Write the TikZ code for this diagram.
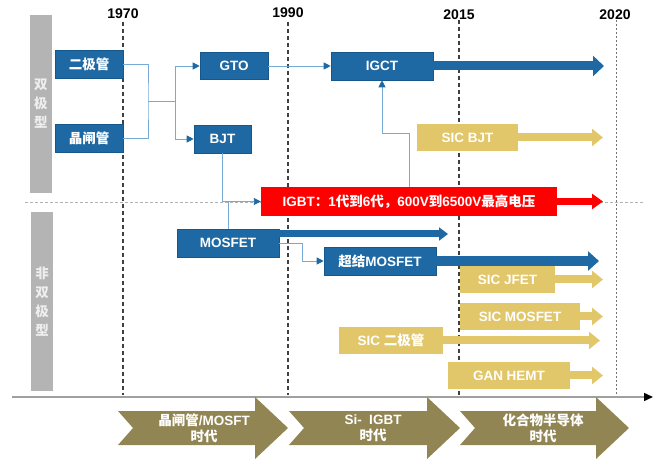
\documentclass[tikz,border=0pt]{standalone}
\usepackage{fontspec}
\setmainfont{Liberation Sans}
\newfontfamily\cjk{Noto Sans CJK SC}
\usetikzlibrary{arrows.meta}

\definecolor{boxblue}{RGB}{30,105,163}
\definecolor{boxedge}{RGB}{22,88,140}
\definecolor{linkblue}{RGB}{120,170,214}
\definecolor{gold}{RGB}{226,198,106}
\definecolor{igbtred}{RGB}{255,0,0}
\definecolor{olive}{RGB}{145,133,83}
\definecolor{bargray}{RGB}{180,180,180}
\definecolor{bartext}{RGB}{238,238,238}
\definecolor{axisgray}{RGB}{160,160,160}

\newcommand\zh[1]{{\cjk #1}}

\tikzset{
  box/.style={minimum height=28pt, inner sep=0pt, text=white, anchor=center},
  bluebox/.style={box, fill=boxblue, draw=boxedge, line width=0.6pt},
  goldbox/.style={box, fill=gold, minimum height=27pt},
  link/.style={draw=linkblue, line width=0.9pt},
  linkarrow/.style={link, -{Triangle[length=7pt,width=7pt,color=boxblue]}},
  fatarrow/.style n args={3}{line width=#1, -{Triangle[length=#3,width=#2]}},
  yearline/.style={draw=black!75, line width=1.2pt, dash pattern=on 4pt off 3pt},
  yearlabel/.style={font=\fontsize{14}{16}\selectfont\bfseries, text=black},
  bar/.style={fill=bargray, text=bartext, minimum width=22pt, inner sep=0pt,
    align=center, font=\fontsize{13.5}{19}\selectfont\cjk\bfseries},
  era/.style={fill=olive},
  eratext/.style={text=white, align=center, font=\fontsize{13.5}{16}\selectfont\bfseries},
}

\begin{document}
\begin{tikzpicture}[x=1pt, y=-1pt, font=\fontsize{13.5}{15}\selectfont\bfseries]
\useasboundingbox (0,0) rectangle (659,462);

% year grid
\draw[yearline] (123,22) -- (123,395);
\draw[yearline] (288,22) -- (288,395);
\draw[yearline] (459,20) -- (459,395);
\draw[draw=black!55, line width=0.8pt, dash pattern=on 2pt off 2pt] (616,20) -- (616,395);
\node[yearlabel] (y1970) at (123,14) {1970};
\node[yearlabel] (y1990) at (288,13) {1990};
\node[yearlabel] (y2015) at (459,15) {2015};
\node[yearlabel] (y2020) at (615,15) {2020};

% separator between bipolar and non-bipolar
\draw[draw=black!30, line width=0.5pt, dash pattern=on 3pt off 2pt] (25,202) -- (643,202);

% category bars
\node[bar, minimum height=178pt] (bipolar) at (41,104) {双\\极\\型};
\node[bar, minimum height=179pt] (nonbipolar) at (42,301.5) {非\\双\\极\\型};

% time axis
\draw[draw=axisgray, line width=1.5pt, -{Triangle[length=9pt,width=8pt,color=black]}] (12,397) -- (653,397);

% era chevrons
\fill[era] (118,411) -- (255,411) -- (255,397) -- (288,428) -- (255,459) -- (255,445) -- (118,445) -- (133,428) -- cycle;
\fill[era] (289,411) -- (427,411) -- (427,397) -- (460,428) -- (427,459) -- (427,445) -- (289,445) -- (304,428) -- cycle;
\fill[era] (460,411) -- (596,411) -- (596,397) -- (629,428) -- (596,459) -- (596,445) -- (460,445) -- (475,428) -- cycle;
\node[eratext] (era1) at (204,428) {\zh{晶闸管}/MOSFT\\\zh{时代}};
\node[eratext] (era2) at (373,428) {Si-\ \ IGBT\\\zh{时代}};
\node[eratext] (era3) at (543,428) {\zh{化合物半导体}\\\zh{时代}};

% devices
\node[bluebox, minimum width=68pt] (diode) at (89,64.5) {\zh{二极管}};
\node[bluebox, minimum width=68pt] (thyr) at (89,138) {\zh{晶闸管}};
\node[bluebox, minimum width=68pt, minimum height=27pt] (gto) at (234,66) {GTO};
\node[bluebox, minimum width=57pt] (bjt) at (222.5,139) {BJT};
\node[bluebox, minimum width=102pt] (igct) at (382,66) {IGCT};
\node[goldbox, minimum width=101pt] (sicbjt) at (467.5,137.5) {SIC BJT};
\node[box, fill=igbtred, minimum width=296pt, minimum height=29pt] (igbt) at (409,201.5)
  {IGBT\zh{：}1\zh{代到}6\zh{代，}600V\zh{到}6500V\zh{最高电压}};
\node[bluebox, minimum width=102pt] (mosfet) at (228,243) {MOSFET};
\node[bluebox, minimum width=112pt] (sj) at (380,261) {\zh{超结}MOSFET};
\node[goldbox, minimum width=95pt] (sicjfet) at (507.5,279.5) {SIC JFET};
\node[goldbox, minimum width=120pt] (sicmos) at (520,316.5) {SIC MOSFET};
\node[goldbox, minimum width=104pt] (sicdiode) at (391,340.5) {SIC \zh{二极管}};
\node[goldbox, minimum width=122pt] (gan) at (509,375.5) {GAN HEMT};

% lifetime arrows
\coordinate (igctEnd) at (604,66);
\coordinate (sicbjtEnd) at (603,137.5);
\coordinate (igbtEnd) at (603,201.5);
\coordinate (mosEnd) at (448,234);
\coordinate (sjEnd) at (599,261);
\coordinate (jfetEnd) at (603,279.5);
\coordinate (smosEnd) at (603,316.5);
\coordinate (sdiodeEnd) at (600,340.5);
\coordinate (ganEnd) at (603,375.5);
\draw[fatarrow={9pt}{20pt}{11pt}, draw=boxblue] (igct.east) -- (igctEnd);
\draw[fatarrow={8pt}{17pt}{11pt}, draw=gold] (sicbjt.east) -- (sicbjtEnd);
\draw[fatarrow={7pt}{15pt}{11pt}, draw=igbtred] (igbt.east) -- (igbtEnd);
\draw[fatarrow={7pt}{13pt}{9pt}, draw=boxblue] (mosfet.east |- mosEnd) -- (mosEnd);
\draw[fatarrow={10pt}{19pt}{11pt}, draw=boxblue] (sj.east) -- (sjEnd);
\draw[fatarrow={8pt}{17pt}{11pt}, draw=gold] (sicjfet.east) -- (jfetEnd);
\draw[fatarrow={8pt}{17pt}{11pt}, draw=gold] (sicmos.east) -- (smosEnd);
\draw[fatarrow={8pt}{17pt}{11pt}, draw=gold] (sicdiode.east) -- (sdiodeEnd);
\draw[fatarrow={8pt}{17pt}{11pt}, draw=gold] (gan.east) -- (ganEnd);

% lineage connectors
\coordinate (joinA) at (148,101);
\coordinate (joinB) at (175,101);
\draw[link] (diode.east) -| (joinA) |- (thyr.east);
\draw[link] (joinA) -- (joinB);
\draw[linkarrow] (joinB) |- (gto.west);
\draw[linkarrow] (joinB) |- (bjt.west);
\draw[linkarrow] (gto.east) -- (igct.west);
\draw[linkarrow] (bjt.south) |- (igbt.west);
\draw[link] (mosfet.north) -- (mosfet.north |- igbt.west);
\coordinate (joinM) at (302,243);
\draw[linkarrow] (mosfet.east) -- (joinM) |- (sj.west);
\coordinate (joinI) at (382,133);
\draw[linkarrow] (igbt.north) |- (joinI) -- (igct.south);
\end{tikzpicture}
\end{document}
